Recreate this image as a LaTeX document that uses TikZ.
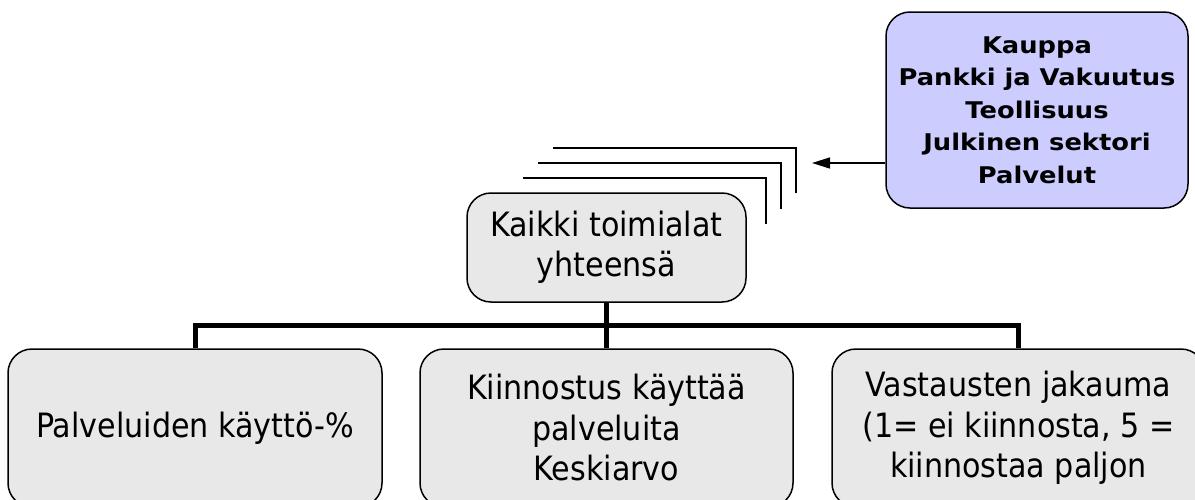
\documentclass[tikz,border=0pt]{standalone}
\usepackage{fontspec}
\setmainfont{DejaVu Sans Condensed}
\newfontfamily\sectorfont[FakeStretch=1.12]{DejaVu Sans}
\usetikzlibrary{arrows.meta}
\definecolor{boxgrey}{HTML}{E8E8E8}
\definecolor{sectorblue}{HTML}{CCCCFF}
\tikzset{
  card/.style={draw=black, line width=1.5pt, fill=boxgrey, rounded corners=24pt,
    align=center, inner sep=0pt, font=\fontsize{33.5}{40.5}\selectfont},
  sectorcard/.style={draw=black, line width=1.5pt, fill=sectorblue, rounded corners=24pt,
    align=center, inner sep=0pt, font=\sectorfont\bfseries\fontsize{23}{32.5}\selectfont},
  bus/.style={line width=5pt},
  fold/.style={line width=1.5pt},
  pointer/.style={line width=1.5pt, -{Triangle[length=18pt,width=11pt]}}
}
\begin{document}
\begin{tikzpicture}[x=1pt,y=-1pt]
\clip (0,0) rectangle (1195,499);
\fill[white] (0,0) rectangle (1195,499);

% sector list
\node[sectorcard, minimum width=302pt, minimum height=196pt] (sectors) at (1037,110)
  {Kauppa\\Pankki ja Vakuutus\\Teollisuus\\Julkinen sektori\\Palvelut};

% stacked folds behind the total box
\draw[fold] (553,148) -- (796,148) -- (796,193);
\draw[fold] (538,163) -- (781,163) -- (781,209);
\draw[fold] (523,178) -- (766,178) -- (766,224);

\coordinate (tip) at (812,163);
\draw[pointer] (sectors.west |- tip) -- (tip);

% total box
\node[card, minimum width=279pt, minimum height=109pt] (total) at (606.5,247.5)
  {Kaikki toimialat\\yhteensä};

% measures
\node[card, minimum width=374pt, minimum height=158pt] (usage) at (195,428)
  {Palveluiden käyttö-\%};
\node[card, minimum width=373pt, minimum height=158pt] (interest) at (606.5,428)
  {Kiinnostus käyttää\\palveluita\\Keskiarvo};
\node[card, minimum width=373pt, minimum height=158pt] (spread) at (1018.5,428)
  {Vastausten jakauma\\(1= ei kiinnosta, 5 =\\kiinnostaa paljon};

% tree connectors
\path (total.south) ++(0,23) coordinate (hub);
\draw[bus] (total.south) -- (hub);
\draw[bus] (usage.north) |- (hub) -| (spread.north);
\draw[bus] (hub) -- (interest.north);
\end{tikzpicture}
\end{document}
